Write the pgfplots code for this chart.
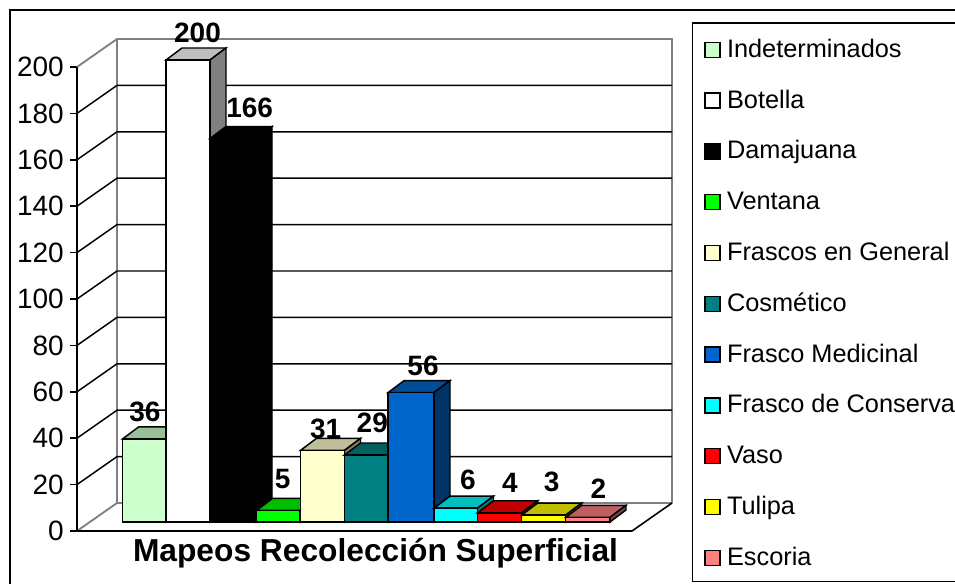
\documentclass[border=0pt]{standalone}
\usepackage{fontspec}
\setmainfont{Liberation Sans}
\usepackage{pgfplots}
\pgfplotsset{compat=1.18}

\definecolor{cIndet}{RGB}{204,255,204}
\definecolor{cVentana}{RGB}{0,255,0}
\definecolor{cFrascos}{RGB}{255,255,204}
\definecolor{cCosm}{RGB}{0,128,128}
\definecolor{cMedic}{RGB}{0,102,204}
\definecolor{cCons}{RGB}{0,255,255}
\definecolor{cVaso}{RGB}{255,0,0}
\definecolor{cTulipa}{RGB}{255,255,0}
\definecolor{cEscoria}{RGB}{255,128,128}
\definecolor{wallgray}{RGB}{128,128,128}

% one 3D column: left edge, right edge, value, colour, legend name
\newcommand{\columna}[5]{%
  \pgfmathsetmacro{\xbl}{#1+16}%
  \pgfmathsetmacro{\xbr}{#2+16}%
  \pgfmathsetmacro{\ytop}{#3+5.2}%
  \addplot[fill=#4!75!black, draw=black, line width=1.1pt, forget plot]
    coordinates {(#1,#3)(\xbl,\ytop)(\xbr,\ytop)(#2,#3)} --cycle;
  \addplot[fill=#4!50!black, draw=black, line width=1.1pt, forget plot]
    coordinates {(#2,0)(#2,#3)(\xbr,\ytop)(\xbr,5.2)} --cycle;
  \addplot[fill=#4, draw=black, line width=1.1pt]
    coordinates {(#1,0)(#1,#3)(#2,#3)(#2,0)} --cycle;
  \addlegendentry{#5}
}

\begin{document}
\begin{tikzpicture}
\useasboundingbox (0,0) rectangle (716.25pt,437.25pt);

% walls, floor and value axis
\begin{axis}[
  at={(57.75pt,39pt)}, anchor=south west,
  scale only axis, width=446.25pt, height=369pt,
  xmin=77, xmax=672, ymin=0, ymax=212.07,
  clip=false,
  axis line style={draw=none},
  xtick=\empty,
  ytick={0,20,...,200},
  ytick pos=left,
  tick align=outside,
  major tick length=5.25pt,
  tick style={black, line width=1.1pt},
  yticklabel style={font=\fontsize{21}{22}\selectfont, inner sep=0pt, xshift=-4.5pt},
  /pgf/number format/assume math mode=true,
]
\addplot[wallgray, line width=1.4pt] coordinates {(77,0)(117,12.07)(672,12.07)};
\addplot[wallgray, line width=1.4pt] coordinates {(117,12.07)(117,212.07)};
\addplot[wallgray, line width=1.4pt] coordinates {(77,200)(117,212.07)(672,212.07)(672,12.07)};
\addplot[black, line width=1.1pt] coordinates {(77,20)(117,32.07)(672,32.07)};
\addplot[black, line width=1.1pt] coordinates {(77,40)(117,52.07)(672,52.07)};
\addplot[black, line width=1.1pt] coordinates {(77,60)(117,72.07)(672,72.07)};
\addplot[black, line width=1.1pt] coordinates {(77,80)(117,92.07)(672,92.07)};
\addplot[black, line width=1.1pt] coordinates {(77,100)(117,112.07)(672,112.07)};
\addplot[black, line width=1.1pt] coordinates {(77,120)(117,132.07)(672,132.07)};
\addplot[black, line width=1.1pt] coordinates {(77,140)(117,152.07)(672,152.07)};
\addplot[black, line width=1.1pt] coordinates {(77,160)(117,172.07)(672,172.07)};
\addplot[black, line width=1.1pt] coordinates {(77,180)(117,192.07)(672,192.07)};
\addplot[black, line width=1.2pt] coordinates {(77,200)(77,0)(632,0)(672,12.07)};
\end{axis}

% columns and legend
\begin{axis}[
  at={(57.75pt,39pt)}, anchor=south west,
  scale only axis, width=446.25pt, height=369pt,
  xmin=77, xmax=672, ymin=-3.896, ymax=209.09,
  clip=false,
  axis line style={draw=none},
  xtick=\empty, ytick=\empty,
  legend image code/.code={
    \path[draw=none, fill=none] (0pt,0pt) -- (16.5pt,0pt);
    \draw[#1] (0pt,-5pt) rectangle (11.25pt,6.25pt);
  },
  legend style={
    draw=none, fill=none,
    at={(1.0538,1.0013)}, anchor=north west,
    font=\fontsize{19}{20}\selectfont,
    row sep=20.1pt,
    inner sep=0pt,
    nodes={text height=14pt, text depth=4pt, inner sep=0pt},
    cells={anchor=west},
  },
]
\columna{122.7}{166}{36}{cIndet}{Indeterminados}
\columna{166}{210}{200}{white}{Botella}
\columna{210}{256}{166}{black}{Damajuana}
\columna{256.5}{300}{5}{cVentana}{Ventana}
\columna{300.5}{344.5}{31}{cFrascos}{Frascos en General}
\columna{344.5}{388}{29}{cCosm}{Cosmético}
\columna{388}{434}{56}{cMedic}{Frasco Medicinal}
\columna{434}{477.5}{6}{cCons}{Frasco de Conserva}
\columna{477.5}{521.7}{4}{cVaso}{Vaso}
\columna{521.7}{565.7}{3}{cTulipa}{Tulipa}
\columna{565.7}{610}{2}{cEscoria}{Escoria}
\end{axis}

% frames, value labels and title, in image pixels
\begin{scope}[x=.75pt, y=-.75pt, yshift=437.25pt]
  \draw[black, line width=1.5pt] (9.5,590) -- (9.5,10) -- (965,10);
  \draw[black, line width=1.1pt] (692.5,581.5) -- (692.5,23) -- (965,23);
  \draw[black, line width=1.1pt] (692.5,581.5) -- (965,581.5);
  \foreach \lx/\ly/\lt in {197.5/33/200, 249.7/107.5/166, 145/412.3/36, 282.7/479/5,
      325.7/429/31, 372.3/423/29, 423/366/56, 468/480/6, 510/482.7/4, 551.7/481.7/3, 598.3/489/2}
    \node[font=\fontsize{21}{22}\selectfont\bfseries, inner sep=0pt] at (\lx,\ly) {\lt};
  \node[font=\fontsize{23.8}{26}\selectfont\bfseries, inner sep=0pt] at (375.5,553) {Mapeos Recolección Superficial};
\end{scope}
\end{tikzpicture}
\end{document}
